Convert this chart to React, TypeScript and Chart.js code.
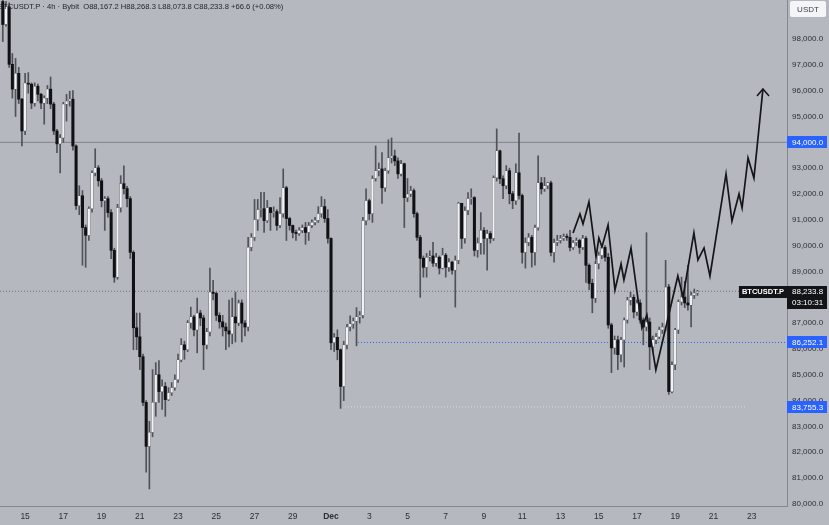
import React, { useEffect, useRef } from "react";
import { Chart, registerables } from "chart.js";

Chart.register(...registerables);

// ---------- header / meta ----------
const headerText = "BTCUSDT.P · 4h · Bybit  O88,167.2 H88,268.3 L88,073.8 C88,233.8 +66.6 (+0.08%)";
const quoteUnit = "USDT";
const symbolTag = "BTCUSDT.P";
const countdownText = "03:10:31";

// ---------- time axis (day-of-month numbering, Dec 1 = 31) ----------
const firstCandleDay = 13 + 20 / 24; // Nov 13 20:00
const candleStepDays = 4 / 24;
const xMinDay = 13.687;
const xMaxDay = 54.849;
const tickDays = [15, 17, 19, 21, 23, 25, 27, 29, 31, 33, 35, 37, 39, 41, 43, 45, 47, 49, 51, 53];
const tickLabels = ["15", "17", "19", "21", "23", "25", "27", "29", "Dec", "3", "5", "7", "9", "11", "13", "15", "17", "19", "21", "23"];

// ---------- price axis ----------
const yMinPrice = 79920;
const yMaxPrice = 99510;
const priceTicks = [80000, 81000, 82000, 83000, 84000, 85000, 86000, 87000, 88000, 89000, 90000, 91000, 92000, 93000, 94000, 95000, 96000, 97000, 98000];

// ---------- candles (4h) ----------
const firstOpen = 99450;
const closes = [
  98560, 99250, 97020, 96060, 96670, 95670, 94440, 96290, 96250, 95520,
  96170, 95860, 95520, 95710, 96060, 95480, 94440, 93940, 94170, 95480,
  95600, 95670, 93860, 91550, 91930, 90700, 90400, 91430, 92820, 93010,
  92510, 91740, 91820, 91280, 89820, 88780, 91470, 92400, 92210, 91820,
  89740, 86820, 86470, 85700, 83930, 82230, 82770, 83930, 85000, 84350,
  84550, 84040, 84310, 84500, 84810, 85580, 86160, 85970, 87010, 87240,
  86740, 87390, 87200, 86160, 86660, 88200, 88150, 87300, 87050, 86850,
  86700, 86580, 87240, 87010, 87780, 87000, 86850, 89930, 90320, 91010,
  91400, 91430, 90970, 91470, 91280, 91320, 90780, 91240, 92240, 91050,
  90780, 90510, 90470, 90590, 90700, 90510, 90780, 90900, 90980, 91240,
  91510, 91050, 90280, 86240, 86450, 85970, 84550, 86160, 86850, 86970,
  87080, 87240, 87300, 90970, 91740, 91240, 92600, 92900, 92970, 92240,
  92900, 93400, 93470, 93280, 92780, 93170, 91860, 92000, 92130, 91240,
  90320, 89510, 89160, 89550, 89600, 89320, 89550, 89130, 89630, 89160,
  89360, 89050, 89430, 91640, 90280, 91360, 91820, 91860, 89820, 90100,
  90590, 90280, 90470, 90280, 92630, 93670, 92590, 92320, 92900, 92010,
  91740, 92820, 91940, 89740, 90120, 90320, 89740, 90700, 92430, 92200,
  92320, 92430, 89740, 90120, 90200, 90280, 90350, 90320, 89930, 90120,
  90200, 89930, 90280, 89240, 88540, 87970, 89300, 89620, 89930, 89550,
  86930, 86040, 86350, 85780, 86350, 87120, 87890, 88000, 87430, 87780,
  87120, 86850, 87040, 86080, 86350, 86470, 86740, 86850, 88400, 84350,
  85390, 86740, 87820, 88010, 87780, 87700, 88080, 88167.2, 88233.8,
];
const highs = [
  99800, 99444, 99400, 97440, 97250, 96900, 95700, 96670, 96700, 96300,
  96300, 96250, 95900, 95800, 96200, 96530, 95550, 94500, 94300, 95550,
  95860, 95980, 96000, 93900, 92320, 92130, 90800, 91500, 92900, 93750,
  93100, 92600, 91900, 91900, 91400, 89900, 91600, 92710, 93090, 92300,
  91900, 89800, 87390, 87390, 85800, 84000, 83200, 85200, 85470, 85550,
  84800, 84700, 84500, 84700, 85000, 85800, 86400, 86300, 87100, 87620,
  87300, 87970, 87500, 87300, 86800, 89130, 88660, 88200, 87400, 87300,
  87000, 87890, 87970, 88200, 87890, 87900, 87100, 90320, 90470, 91790,
  91790, 92060, 92060, 91750, 91480, 91500, 91400, 91860, 92970, 92300,
  91100, 90800, 90600, 90700, 90800, 90900, 90900, 91000, 91100, 91510,
  91900, 91790, 91400, 90300, 86600, 86740, 86000, 86300, 86950, 87280,
  87200, 87600, 87450, 91100, 92200, 91800, 92700, 93860, 93200, 93600,
  93000, 94100, 94170, 93700, 93400, 93300, 93200, 92600, 92300, 92200,
  91300, 90400, 89600, 89700, 89800, 90130, 89700, 89600, 89900, 89700,
  89500, 89400, 89600, 91680, 91640, 91500, 92050, 92200, 91900, 90300,
  91280, 90700, 90600, 90550, 92700, 94520, 93700, 92700, 93100, 93000,
  92100, 93170, 94360, 92000, 90300, 90470, 90400, 90800, 93480, 92640,
  92640, 92450, 92500, 90250, 90400, 90400, 90450, 90450, 90590, 90200,
  90300, 90250, 90400, 90350, 89300, 88700, 89400, 89750, 90050, 90000,
  89700, 87000, 86500, 86500, 86450, 87200, 88000, 88200, 88100, 87900,
  87900, 87200, 90500, 87200, 86500, 86600, 86850, 87000, 89430, 88500,
  85500, 86800, 87900, 88780, 88620, 89240, 88200, 88320, 88268.3,
];
const lows = [
  97900, 98500, 96900, 95710, 95000, 95500, 93860, 94300, 95900, 95300,
  95400, 95600, 95300, 94700, 95500, 95300, 94300, 93600, 92820, 94000,
  94820, 95400, 93700, 91400, 91200, 89240, 89160, 90200, 91300, 92700,
  92300, 91500, 90590, 91100, 89500, 88580, 88700, 91300, 92000, 91500,
  89500, 85970, 85970, 85200, 83800, 81230, 80580, 82600, 83390, 83930,
  83660, 83390, 84000, 84200, 84400, 84700, 85500, 85600, 85900, 86800,
  86500, 85850, 86900, 85200, 86000, 86500, 87900, 87100, 86800, 86500,
  85970, 86080, 86200, 86270, 86900, 86270, 86500, 86700, 89800, 90200,
  90590, 91100, 90510, 90900, 90590, 91100, 90600, 90700, 91100, 90200,
  90600, 90300, 90200, 90400, 90500, 90050, 90200, 90700, 90800, 90900,
  91100, 90900, 90100, 85970, 85900, 85580, 83700, 84000, 86000, 86700,
  86800, 86120, 87000, 87200, 90800, 91000, 90900, 92500, 92700, 91630,
  92100, 92800, 93200, 93100, 92600, 92700, 90700, 91700, 91900, 91100,
  90200, 88000, 88780, 88780, 89400, 89200, 89200, 88900, 89100, 88780,
  89000, 88900, 87620, 89300, 89890, 90100, 91200, 91600, 89600, 89550,
  89670, 89670, 89050, 90100, 90200, 92500, 92400, 91820, 92200, 91620,
  91430, 91600, 91800, 89320, 89130, 90000, 89170, 89240, 90600, 92000,
  92100, 92200, 89600, 89360, 90000, 90100, 90200, 90200, 89800, 89850,
  90000, 89700, 89850, 88580, 88300, 87400, 87800, 89100, 89500, 89400,
  86800, 85080, 85800, 85200, 85500, 85300, 87000, 87700, 87200, 87300,
  87000, 86160, 86700, 85200, 85900, 86200, 86400, 86600, 86700, 84240,
  84300, 85200, 86600, 87700, 87600, 87500, 86850, 87950, 88073.8,
];

// ---------- projection path (drawn arrow) ----------
const projectionDays = [43.66, 44.02, 44.18, 44.49, 44.86, 45.01, 45.17, 45.49, 45.85, 46.17, 46.32, 46.69, 47.26, 47.52, 47.99, 49.14, 49.41, 49.98, 50.19, 50.51, 50.82, 51.66, 51.97, 52.34, 52.5, 52.81, 53.12, 53.59];
const projectionPrices = [90490, 91226, 90839, 91690, 89561, 90297, 89948, 90800, 88284, 89290, 88671, 89910, 86813, 87316, 85187, 88826, 88013, 90490, 89445, 89910, 88826, 92774, 90955, 92000, 91458, 93394, 92619, 96064];
const arrowHeadDays = [53.28, 53.59, 53.91];
const arrowHeadPrices = [95793, 96064, 95793];

// ---------- horizontal levels ----------
const resistanceLevel = 94000;
const lastPrice = 88233.8;
const supportLevel = 86252.1;
const supportStartDay = 32.41;
const lowLevel = 83755.3;
const lowLevelStartDay = 31.73;
const lowLevelEndDay = 52.65;

const FONT = "'Liberation Sans', Arial, sans-serif";
const BG = "#b5b8be";

function fmtPrice(v: number) {
  return v.toLocaleString("en-US", { minimumFractionDigits: 1, maximumFractionDigits: 1 });
}

export default function App() {
  const ref = useRef<HTMLCanvasElement>(null);

  useEffect(() => {
    document.body.style.margin = "0";
    const canvas = ref.current;
    if (!canvas) return;

    const candles = closes.map((c, i) => {
      const o = i === 0 ? firstOpen : closes[i - 1];
      return {
        x: firstCandleDay + i * candleStepDays,
        o,
        c,
        h: Math.max(highs[i], o, c),
        l: Math.min(lows[i], o, c),
      };
    });

    const wickData = candles.map((k) => ({ x: k.x, y: [k.l, k.h] }));
    const upData = candles.filter((k) => k.c >= k.o).map((k) => ({ x: k.x, y: [k.o, k.c] }));
    const downData = candles.filter((k) => k.c < k.o).map((k) => ({ x: k.x, y: [k.o, k.c] }));

    const overlay = {
      id: "overlay",
      beforeDraw(chart: any) {
        const ctx = chart.ctx;
        ctx.save();
        ctx.fillStyle = BG;
        ctx.fillRect(0, 0, chart.width, chart.height);
        ctx.restore();
      },
      afterDraw(chart: any) {
        const ctx = chart.ctx;
        const ys = chart.scales.y;
        const area = chart.chartArea;
        const axL = area.right;
        const axW = chart.width - axL;
        ctx.save();

        // header
        ctx.font = `7.6px ${FONT}`;
        ctx.fillStyle = "#23262d";
        ctx.textAlign = "left";
        ctx.textBaseline = "middle";
        ctx.fillText(headerText, -2, 6.5);

        // USDT box
        ctx.fillStyle = "#f4f5f7";
        ctx.beginPath();
        (ctx as any).roundRect(axL + 3, 1, axW - 6, 16, 2);
        ctx.fill();
        ctx.fillStyle = "#3a3d44";
        ctx.font = `8px ${FONT}`;
        ctx.textAlign = "center";
        ctx.fillText(quoteUnit, axL + axW / 2, 9.5);

        const tag = (price: number, bg: string, text: string) => {
          const y = ys.getPixelForValue(price);
          ctx.fillStyle = bg;
          ctx.fillRect(axL, Math.round(y) - 6, axW - 2, 12);
          ctx.fillStyle = "#ffffff";
          ctx.font = `8px ${FONT}`;
          ctx.textAlign = "left";
          ctx.fillText(text, axL + 5, Math.round(y) + 0.5);
        };
        tag(resistanceLevel, "#2962ff", fmtPrice(resistanceLevel));
        tag(supportLevel, "#2962ff", fmtPrice(supportLevel));
        tag(lowLevel, "#2962ff", fmtPrice(lowLevel));

        // last price tag (two lines)
        const ly = Math.round(ys.getPixelForValue(lastPrice));
        ctx.fillStyle = "#131417";
        ctx.fillRect(axL, ly - 5, axW - 2, 23);
        ctx.fillStyle = "#ffffff";
        ctx.font = `8px ${FONT}`;
        ctx.textAlign = "left";
        ctx.fillText(fmtPrice(lastPrice), axL + 5, ly + 1);
        ctx.fillText(countdownText, axL + 5, ly + 12);

        // symbol tag left of the axis
        ctx.font = `bold 7.5px ${FONT}`;
        const tw = ctx.measureText(symbolTag).width + 6;
        ctx.fillStyle = "#131417";
        ctx.fillRect(axL - tw, ly - 5, tw, 12);
        ctx.fillStyle = "#ffffff";
        ctx.textAlign = "center";
        ctx.fillText(symbolTag, axL - tw / 2, ly + 1);

        ctx.restore();
      },
    };

    const lineDs = (data: any[], color: string, width: number, dash: number[], order: number) => ({
      type: "line" as const,
      data,
      borderColor: color,
      borderWidth: width,
      borderDash: dash,
      pointRadius: 0,
      fill: false,
      tension: 0,
      order,
    });

    const chart = new Chart(canvas, {
      type: "bar",
      data: {
        datasets: [
          lineDs([{ x: xMinDay, y: resistanceLevel }, { x: xMaxDay, y: resistanceLevel }], "#80838a", 1, [], 20),
          lineDs([{ x: xMinDay, y: lastPrice }, { x: xMaxDay, y: lastPrice }], "#6c6f76", 1, [1, 2], 20),
          lineDs([{ x: supportStartDay, y: supportLevel }, { x: xMaxDay, y: supportLevel }], "#2962ff", 1, [1, 2], 20),
          lineDs([{ x: lowLevelStartDay, y: lowLevel }, { x: lowLevelEndDay, y: lowLevel }], "rgba(225,228,235,0.8)", 1, [1, 2], 20),
          {
            type: "bar" as const,
            data: wickData as any,
            backgroundColor: "#4f5259",
            barThickness: 1,
            grouped: false,
            minBarLength: 1,
            order: 10,
          },
          {
            type: "bar" as const,
            data: upData as any,
            backgroundColor: "#f1f2f4",
            borderColor: "#5a5d64",
            borderWidth: 0.5,
            borderSkipped: false,
            barThickness: 2.6,
            grouped: false,
            minBarLength: 1,
            order: 5,
          },
          {
            type: "bar" as const,
            data: downData as any,
            backgroundColor: "#101114",
            barThickness: 2.4,
            grouped: false,
            minBarLength: 1,
            order: 5,
          },
          lineDs(projectionDays.map((d, i) => ({ x: d, y: projectionPrices[i] })), "#15161a", 1.7, [], 0),
          lineDs(arrowHeadDays.map((d, i) => ({ x: d, y: arrowHeadPrices[i] })), "#15161a", 1.5, [], 0),
        ] as any,
      },
      options: {
        responsive: false,
        animation: false,
        devicePixelRatio: 1,
        events: [],
        layout: { padding: 0 },
        plugins: { legend: { display: false }, tooltip: { enabled: false } },
        scales: {
          x: {
            type: "linear",
            min: xMinDay,
            max: xMaxDay,
            offset: false,
            grid: { display: false, drawTicks: false },
            border: { display: true, color: "#85888f", width: 1 },
            afterBuildTicks: (s: any) => {
              s.ticks = tickDays.map((v) => ({ value: v }));
            },
            afterFit: (s: any) => {
              s.height = 19;
              s.paddingLeft = 0;
              s.paddingRight = 0;
              s.paddingTop = 0;
              s.paddingBottom = 0;
            },
            ticks: {
              autoSkip: false,
              maxRotation: 0,
              padding: 6,
              color: "#2c2f36",
              font: (c: any) => ({ family: FONT, size: 8.5, weight: c.tick && c.tick.value === 31 ? "bold" : "normal" }),
              callback: (v: any) => {
                const idx = tickDays.indexOf(Number(v));
                return idx >= 0 ? tickLabels[idx] : "";
              },
            },
          },
          y: {
            type: "linear",
            position: "right",
            min: yMinPrice,
            max: yMaxPrice,
            grid: { display: false, drawTicks: false },
            border: { display: true, color: "#85888f", width: 1 },
            afterBuildTicks: (s: any) => {
              s.ticks = priceTicks.map((v) => ({ value: v }));
            },
            afterFit: (s: any) => {
              s.width = 42;
              s.paddingTop = 0;
              s.paddingBottom = 0;
              s.paddingLeft = 0;
              s.paddingRight = 0;
            },
            ticks: {
              autoSkip: false,
              padding: 5,
              color: "#2c2f36",
              font: { family: FONT, size: 8 },
              callback: (v: any) => fmtPrice(Number(v)),
            },
          },
        },
      } as any,
      plugins: [overlay],
    });

    return () => chart.destroy();
  }, []);

  return (
    <div style={{ width: 829, height: 525 }}>
      <canvas ref={ref} width={829} height={525} style={{ display: "block", width: 829, height: 525 }} />
    </div>
  );
}
